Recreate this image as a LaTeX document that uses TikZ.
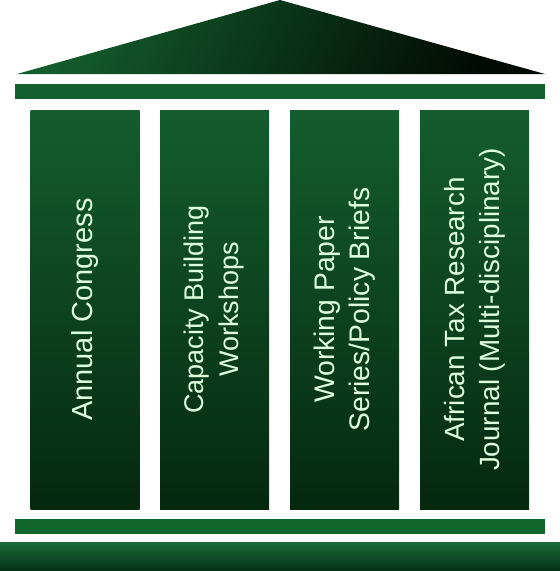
\documentclass[tikz,border=0pt]{standalone}
\usepackage{fontspec}
\setmainfont{Liberation Sans}

\definecolor{roofgreen}{HTML}{135C2C}
\definecolor{roofdark}{HTML}{020A04}
\definecolor{slabgreen}{HTML}{125E2D}
\definecolor{pillartop}{HTML}{145D2D}
\definecolor{pillarbot}{HTML}{05280F}
\definecolor{groundtop}{HTML}{1A6A36}
\definecolor{groundbot}{HTML}{053017}
\definecolor{labelgreen}{HTML}{DDFFDD}

\tikzset{
  pillar/.style={rotate=90, inner sep=0pt, minimum width=399pt, minimum height=109pt,
    top color=pillartop, bottom color=pillarbot, text=labelgreen, align=center,
    font=\fontsize{#1}{35}\selectfont},
  pillar/.default=28,
  slab/.style={fill=slabgreen, inner sep=0pt, minimum width=530pt, minimum height=15pt}
}

\begin{document}
\begin{tikzpicture}[x=1pt,y=-1pt]
\useasboundingbox (0,0) rectangle (560,571);

% roof
\shade[top color=roofgreen, middle color=roofgreen, bottom color=roofdark, shading angle=65]
  (17,74) -- (280,0) -- (545,74) -- cycle;
\node[slab] (beam) at (280,91.5) {};

% pillars
\node[pillar=29] (congress) at (85,309.5) {Annual Congress};
\node[pillar=27] (workshops) at (214.5,309.5) {Capacity Building\\Workshops};
\node[pillar=28.3] (papers) at (344.5,309.5) {Working Paper\\Series/Policy Briefs};
\node[pillar=27.8] (journal) at (474.5,309.5) {African Tax Research\\Journal (Multi-disciplinary)};

% base
\node[slab, fill=slabgreen!95!green] (step) at (280,526.5) {};
\node[inner sep=0pt, minimum width=560pt, minimum height=29pt,
  top color=groundtop, bottom color=groundbot] (ground) at (280,556.5) {};

\end{tikzpicture}
\end{document}
